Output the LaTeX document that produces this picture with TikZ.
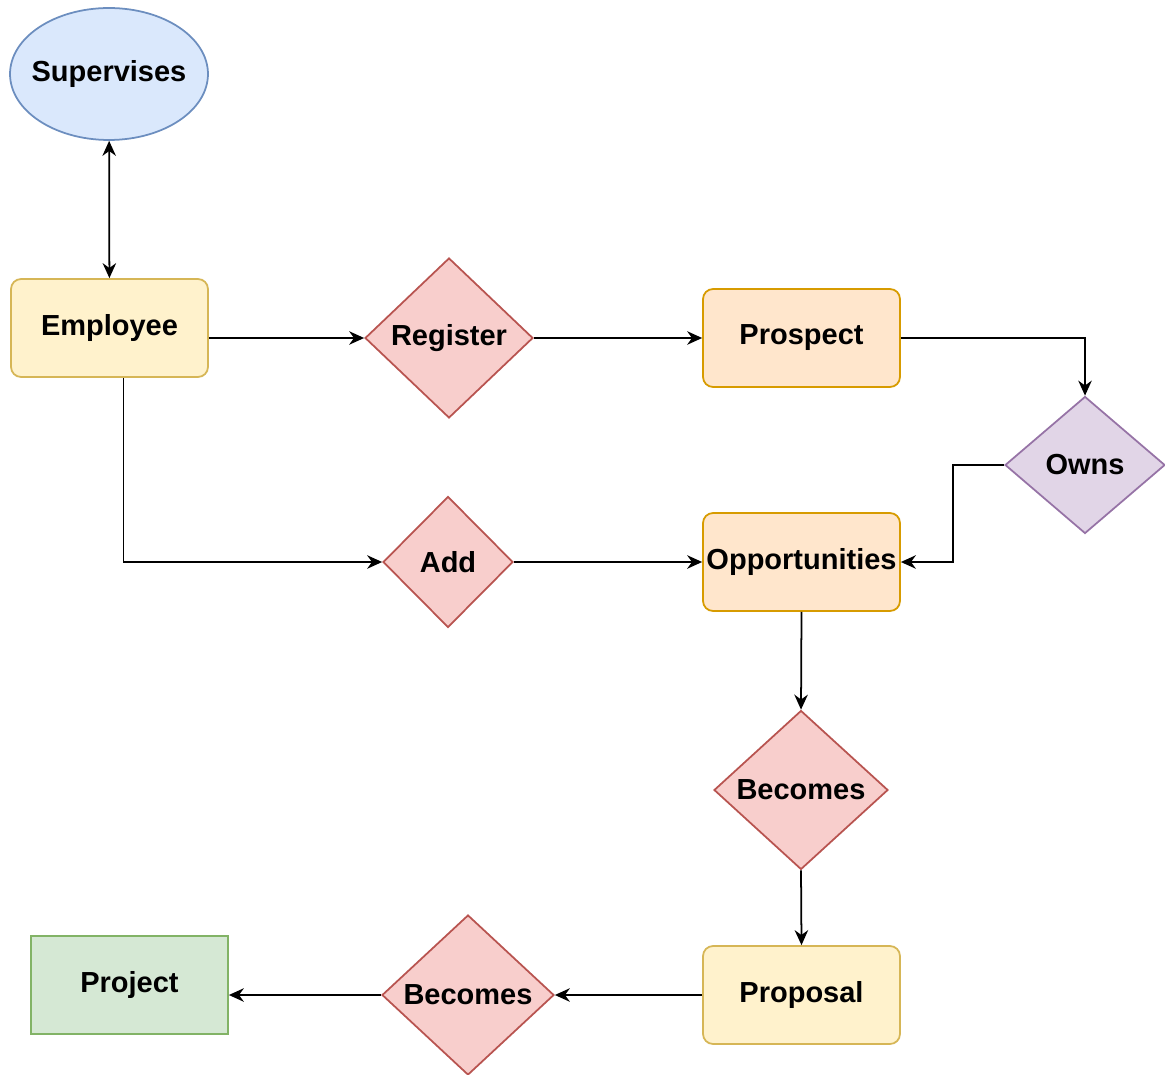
\documentclass[tikz,border=0pt]{standalone}
\usepackage{fontspec}
\setmainfont{Liberation Sans}
\usetikzlibrary{arrows.meta,shapes.geometric}

\begin{document}
\begin{tikzpicture}[
      x=0.02cm, y=-0.02cm, line width=1pt,
      font=\fontsize{16.5}{20}\selectfont\bfseries,
      ent/.style={draw, inner sep=0pt, rounded corners=0.2cm, minimum width=3.94cm, minimum height=1.96cm},
      rel/.style={diamond, draw, inner sep=0pt, fill=relfill, draw=reldraw},
      >={Stealth[length=0.3cm, width=0.27cm]}
    ]
    \definecolor{relfill}{HTML}{F8CECC}
    \definecolor{reldraw}{HTML}{B85450}
    \useasboundingbox (0,0) rectangle (1165,1074);
    \clip (0,0) rectangle (1165,1074);

    \node[ellipse, draw, inner sep=0pt, fill={rgb,255:red,218;green,232;blue,252}, draw={rgb,255:red,108;green,142;blue,191},
          minimum width=3.96cm, minimum height=2.64cm, label=center:Supervises] (sup) at (109,74) {};
    \node[ent, fill={rgb,255:red,255;green,242;blue,204}, draw={rgb,255:red,214;green,182;blue,86}] (emp) at (109.5,328) {Employee};
    \node[rel, minimum width=3.36cm, minimum height=3.2cm, label=center:Register] (reg) at (449,338) {};
    \node[ent, fill={rgb,255:red,255;green,230;blue,204}, draw={rgb,255:red,215;green,155;blue,0}] (pro) at (801.5,338) {Prospect};
    \node[diamond, draw, inner sep=0pt, fill={rgb,255:red,225;green,213;blue,231}, draw={rgb,255:red,150;green,115;blue,166},
          minimum width=3.2cm, minimum height=2.74cm, label=center:Owns] (own) at (1085,465) {};
    \node[rel, minimum width=2.6cm, minimum height=2.62cm, label=center:Add] (add) at (448,562) {};
    \node[ent, fill={rgb,255:red,255;green,230;blue,204}, draw={rgb,255:red,215;green,155;blue,0}] (opp) at (801.5,562) {Opportunities};
    \node[rel, minimum width=3.48cm, minimum height=3.18cm, label=center:Becomes] (bec1) at (801,790) {};
    \node[ent, fill={rgb,255:red,255;green,242;blue,204}, draw={rgb,255:red,214;green,182;blue,86}] (prop) at (801.5,995) {Proposal};
    \node[rel, minimum width=3.44cm, minimum height=3.2cm, label=center:Becomes] (bec2) at (468,995) {};
    \node[ent, rounded corners=0pt, fill={rgb,255:red,213;green,232;blue,212}, draw={rgb,255:red,130;green,179;blue,102}] (proj) at (129.5,985) {Project};

    \draw[<->] (sup) -- (emp);
    \draw[->] (emp.east |- reg.west) -- (reg.west);
    \draw[->] (reg.east) -- (pro.west);
    \draw[->] (pro.east) -| (own.north);
    \draw[->] (own.west) -- (953,465) |- (opp.east);
    \draw[->] ([xshift=0.28cm]emp.south) |- (add.west);
    \draw[->] (add.east) -- (opp.west);
    \draw[->] (opp.south) -- (bec1.north);
    \draw[->] (bec1.south) -- (prop.north);
    \draw[->] (prop.west) -- (bec2.east);
    \draw[->] (bec2.west) -- (bec2.west -| proj.east);
  \end{tikzpicture}
\end{document}
